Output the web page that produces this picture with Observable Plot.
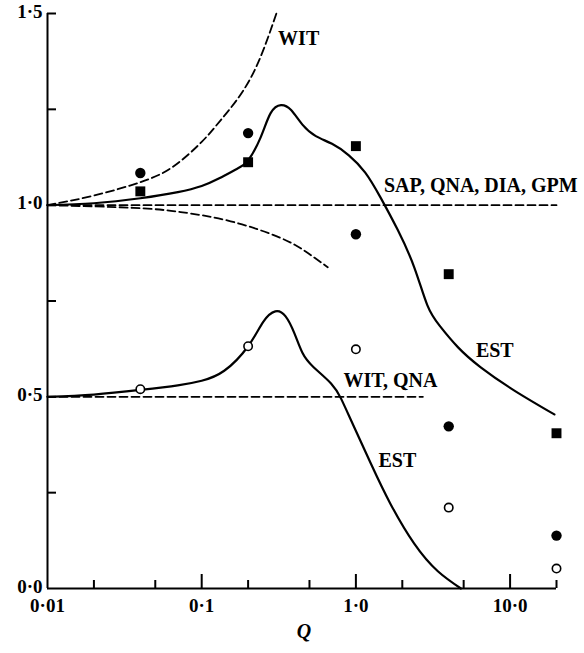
<!DOCTYPE html>
<html>
<head>
<meta charset="utf-8">
<script src="https://cdn.jsdelivr.net/npm/d3@7"></script>
<script src="https://cdn.jsdelivr.net/npm/@observablehq/plot@0.6"></script>
<style>
  html, body { margin: 0; padding: 0; background: #fff; }
  #chart { width: 584px; height: 653px; }
</style>
</head>
<body>
<div id="chart"></div>
<script>
// ---- Data ----
// Upper EST curve (solid)
const estUpperQ = [0.01, 0.02, 0.04, 0.07, 0.1, 0.13, 0.17, 0.2, 0.24, 0.28, 0.327, 0.38, 0.45, 0.55, 0.7, 0.9, 1.15, 1.44, 1.87, 2.39, 2.9, 3.5, 4.6, 6.45, 10.6, 19.4];
const estUpperV = [1.0, 1.005, 1.018, 1.034, 1.05, 1.07, 1.095, 1.117, 1.175, 1.24, 1.261, 1.248, 1.21, 1.18, 1.16, 1.13, 1.085, 1.021, 0.935, 0.838, 0.74, 0.685, 0.629, 0.577, 0.517, 0.454];
// Lower EST curve (solid)
const estLowerQ = [0.01, 0.02, 0.04, 0.07, 0.1, 0.14, 0.2, 0.25, 0.30, 0.35, 0.40, 0.45, 0.53, 0.69, 0.8, 0.93, 1.25, 1.67, 2.39, 3.4, 4.8];
const estLowerV = [0.5, 0.506, 0.518, 0.53, 0.542, 0.568, 0.632, 0.695, 0.723, 0.71, 0.665, 0.615, 0.578, 0.535, 0.496, 0.439, 0.326, 0.222, 0.117, 0.045, 0.0];
// WIT upper dashed curve
const witQ = [0.01, 0.02, 0.04, 0.065, 0.1, 0.133, 0.208, 0.305];
const witV = [1.0, 1.025, 1.06, 1.1, 1.165, 1.222, 1.332, 1.5];
// Lower dashed branch below 1.0
const lowBranchQ = [0.01, 0.036, 0.073, 0.154, 0.327, 0.488, 0.657];
const lowBranchV = [1.0, 0.993, 0.982, 0.958, 0.914, 0.875, 0.838];
// SAP, QNA, DIA, GPM horizontal dashed line
const sapQ = [0.01, 20];
const sapV = [1.0, 1.0];
// WIT, QNA horizontal dashed line
const witQnaQ = [0.01, 2.72];
const witQnaV = [0.5, 0.5];
// Markers
const markerQ = [0.04, 0.2, 1.0, 4.0, 20];
const filledCircleV = [1.084, 1.188, 0.924, 0.423, 0.138];
const filledSquareV = [1.036, 1.112, 1.154, 0.82, 0.405];
const openCircleV = [0.52, 0.632, 0.624, 0.211, 0.052];
// Curve labels
const labelText = ["WIT", "SAP, QNA, DIA, GPM", "WIT, QNA", "EST", "EST"];
const labelQ = [0.313, 1.52, 0.83, 6.0, 1.40];
const labelV = [1.435, 1.052, 0.543, 0.621, 0.334];
// Axis ticks
const xLabelTicks = [0.01, 0.1, 1, 10];
const xTickLabels = ["0·01", "0·1", "1·0", "10·0"];
const xMajorTicks = [0.1, 1, 10];
const xMinorTicks = [0.02, 0.05, 0.2, 0.5, 2, 5, 20];
const yLabelTicks = [0, 0.5, 1.0, 1.5];
const yTickLabels = ["0·0", "0·5", "1·0", "1·5"];
const yMinorTicks = [0.25, 0.5, 0.75, 1.0, 1.25, 1.5];

// ---- Build ----
const rows = (qs, vs) => qs.map((q, i) => ({q, v: vs[i]}));
const xFmt = new Map(xLabelTicks.map((d, i) => [d, xTickLabels[i]]));
const yFmt = new Map(yLabelTicks.map((d, i) => [d, yTickLabels[i]]));
const dash = "8,4";
const font = {fontFamily: "Liberation Serif", fontWeight: "bold", fontSize: 20};
const tickFont = {fontFamily: "Liberation Serif", fontWeight: "bold", fontSize: 19};

const chart = Plot.plot({
  width: 584,
  height: 653,
  marginLeft: 47,
  marginRight: 28,
  marginTop: 13,
  marginBottom: 65,
  x: {type: "log", domain: [0.01, 20], axis: null},
  y: {domain: [0, 1.5], axis: null},
  style: {background: "#fff", fontFamily: "Liberation Serif", color: "#000", overflow: "visible"},
  marks: [
    // axes lines
    Plot.ruleX([0.01], {stroke: "#000", strokeWidth: 2}),
    Plot.ruleY([0], {stroke: "#000", strokeWidth: 2}),
    // inward ticks
    Plot.axisX(xMajorTicks, {tickSize: -14, strokeWidth: 2, tickFormat: () => "", label: null}),
    Plot.axisX(xMinorTicks, {tickSize: -8, strokeWidth: 2, tickFormat: () => "", label: null}),
    Plot.axisY(yMinorTicks, {tickSize: -9, strokeWidth: 2, tickFormat: () => "", label: null}),
    // tick labels
    Plot.axisX(xLabelTicks, {tickSize: 0, tickPadding: 10, tickFormat: d => xFmt.get(d), label: null, ...tickFont}),
    Plot.axisY(yLabelTicks, {tickSize: 0, tickPadding: 5, dy: -2, tickFormat: d => yFmt.get(d), label: null, ...tickFont}),
    // dashed lines
    Plot.line(rows(sapQ, sapV), {x: "q", y: "v", stroke: "#000", strokeWidth: 1.8, strokeDasharray: dash}),
    Plot.line(rows(witQnaQ, witQnaV), {x: "q", y: "v", stroke: "#000", strokeWidth: 1.8, strokeDasharray: dash}),
    Plot.line(rows(witQ, witV), {x: "q", y: "v", stroke: "#000", strokeWidth: 1.8, strokeDasharray: dash, curve: "natural"}),
    Plot.line(rows(lowBranchQ, lowBranchV), {x: "q", y: "v", stroke: "#000", strokeWidth: 1.8, strokeDasharray: dash, curve: "natural"}),
    // solid EST curves
    Plot.line(rows(estUpperQ, estUpperV), {x: "q", y: "v", stroke: "#000", strokeWidth: 2.2, curve: "natural"}),
    Plot.line(rows(estLowerQ, estLowerV), {x: "q", y: "v", stroke: "#000", strokeWidth: 2.2, curve: "natural"}),
    // markers
    Plot.dot(rows(markerQ, filledCircleV), {x: "q", y: "v", r: 5.2, fill: "#000", stroke: "none", symbol: "circle"}),
    Plot.dot(rows(markerQ, filledSquareV), {x: "q", y: "v", r: 5.6, fill: "#000", stroke: "none", symbol: "square"}),
    Plot.dot(rows(markerQ, openCircleV), {x: "q", y: "v", r: 4.2, fill: "#fff", stroke: "#000", strokeWidth: 1.6, symbol: "circle"}),
    // curve labels
    Plot.text(labelText.map((t, i) => ({t, q: labelQ[i], v: labelV[i]})), {x: "q", y: "v", text: "t", textAnchor: "start", lineAnchor: "middle", fill: "#000", ...font}),
    // x-axis title
    Plot.text(["Q"], {frameAnchor: "bottom", dx: 2, dy: 49, text: d => d, fontStyle: "italic", fill: "#000", ...font})
  ]
});
document.getElementById("chart").appendChild(chart);
</script>
</body>
</html>
